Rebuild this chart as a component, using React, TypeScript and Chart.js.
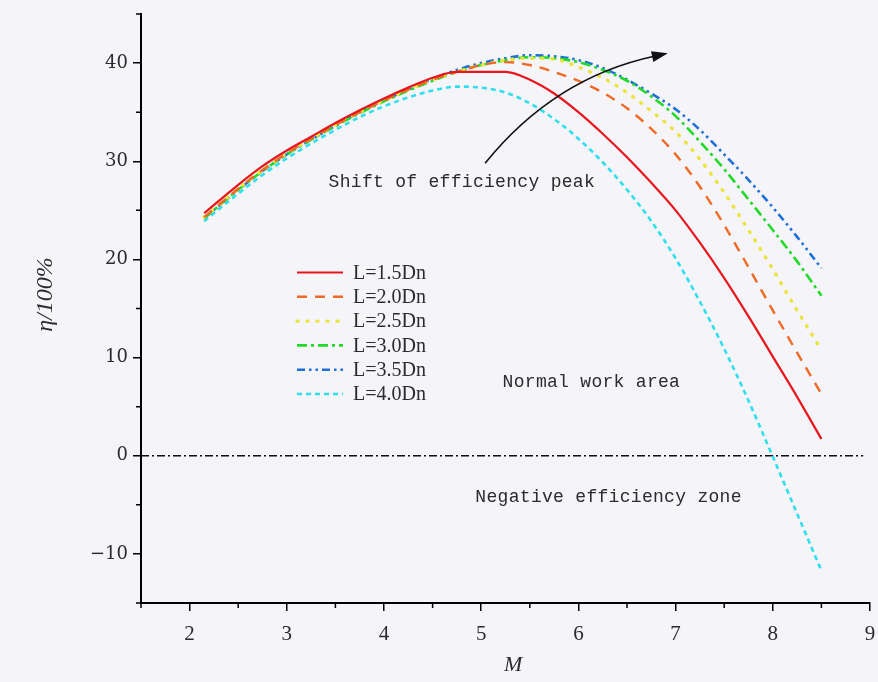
import React, { useEffect, useRef } from 'react';
import { Chart, registerables } from 'chart.js';

Chart.register(...registerables);

// ---------- data ----------
const M = [2.15, 2.5, 2.75, 3.0, 3.25, 3.5, 3.75, 4.0, 4.25, 4.5, 4.75, 5.0, 5.25, 5.5, 5.75, 6.0, 6.25, 6.5, 6.75, 7.0, 7.25, 7.5, 7.75, 8.0, 8.25, 8.5];

const L15 = [24.7, 27.6, 29.5, 31.1, 32.5, 33.9, 35.2, 36.4, 37.5, 38.5, 39.1, 39.1, 39.1, 38.3, 36.9, 35.0, 32.8, 30.4, 27.8, 25.0, 21.7, 18.1, 14.2, 10.1, 6.0, 1.7];
const L20 = [24.3, 27.2, 29.1, 30.8, 32.3, 33.7, 35.0, 36.2, 37.3, 38.3, 39.1, 39.8, 40.1, 39.8, 39.1, 38.2, 37.0, 35.4, 33.3, 30.7, 27.4, 23.5, 19.2, 14.8, 10.5, 6.3];
const L25 = [24.3, 27.2, 29.1, 30.8, 32.3, 33.7, 35.0, 36.2, 37.3, 38.3, 39.1, 39.8, 40.3, 40.5, 40.4, 39.6, 38.5, 37.0, 35.1, 33.0, 30.2, 26.8, 23.0, 19.0, 14.8, 10.8];
const L30 = [24.2, 27.1, 29.0, 30.7, 32.2, 33.6, 34.9, 36.1, 37.2, 38.2, 39.1, 39.8, 40.3, 40.6, 40.5, 40.1, 39.3, 38.2, 36.6, 34.6, 32.0, 29.2, 26.1, 23.0, 19.8, 16.3];
const L35 = [24.2, 27.1, 29.0, 30.7, 32.2, 33.6, 35.0, 36.2, 37.3, 38.4, 39.3, 40.0, 40.5, 40.8, 40.7, 40.3, 39.5, 38.3, 36.9, 35.3, 33.2, 30.7, 28.1, 25.3, 22.3, 19.1];
const L40 = [23.9, 26.7, 28.6, 30.3, 31.8, 33.2, 34.5, 35.6, 36.5, 37.2, 37.6, 37.5, 37.0, 35.9, 34.3, 32.3, 29.9, 27.1, 23.9, 20.1, 15.7, 10.9, 5.6, -0.1, -5.9, -11.7];

const SERIES_LABELS = ['L=1.5Dn', 'L=2.0Dn', 'L=2.5Dn', 'L=3.0Dn', 'L=3.5Dn', 'L=4.0Dn'];
const SERIES_VALUES = [L15, L20, L25, L30, L35, L40];

const ZERO_LINE_X = [1.5, 8.93];

const X_MAJOR = [2, 3, 4, 5, 6, 7, 8, 9];
const X_MINOR = [1.5, 2.5, 3.5, 4.5, 5.5, 6.5, 7.5, 8.5];
const Y_MAJOR = [-10, 0, 10, 20, 30, 40];
const Y_MINOR = [-15, -5, 5, 15, 25, 35, 45];

const X_TITLE = 'M';
const Y_TITLE = 'η/100%';

// annotations (data coordinates)
const NOTE_SHIFT = { text: 'Shift of efficiency peak', x: 3.43, y: 27.9 };
const NOTE_NORMAL = { text: 'Normal work area', x: 5.22, y: 7.5 };
const NOTE_NEG = { text: 'Negative efficiency zone', x: 4.94, y: -4.2 };
const ARROW = { x0: 5.04, y0: 29.8, cx: 5.75, cy: 38.5, x1: 6.92, y1: 41.0 };

// ---------- styles ----------
const STYLES = [
  { color: '#e8161c', dash: [] as number[], width: 2.2, cap: 'butt' },
  { color: '#ef6a24', dash: [10, 8], width: 2.4, cap: 'butt' },
  { color: '#ebe43a', dash: [1, 9], width: 3.4, cap: 'round' },
  { color: '#25d92a', dash: [10, 4, 3, 4], width: 2.6, cap: 'butt' },
  { color: '#1e6fd6', dash: [8, 4, 2.5, 4, 2.5, 4], width: 2.6, cap: 'butt' },
  { color: '#2fdfec', dash: [5, 4], width: 2.6, cap: 'butt' },
];

const BG = '#f4f4f9';
const TEXT = '#2b2b2b';

const decorPlugin = {
  id: 'decor',
  beforeDraw(chart: any) {
    const ctx = chart.ctx;
    ctx.save();
    ctx.fillStyle = BG;
    ctx.fillRect(0, 0, chart.width, chart.height);
    ctx.restore();
  },
  afterDraw(chart: any) {
    const ctx = chart.ctx;
    const xs = chart.scales.x;
    const ys = chart.scales.y;
    const area = chart.chartArea;
    ctx.save();
    // minor ticks
    ctx.strokeStyle = '#000';
    ctx.lineWidth = 1.5;
    ctx.beginPath();
    X_MINOR.forEach((v) => {
      const px = xs.getPixelForValue(v);
      ctx.moveTo(px, area.bottom);
      ctx.lineTo(px, area.bottom + 5);
    });
    Y_MINOR.forEach((v) => {
      const py = ys.getPixelForValue(v);
      ctx.moveTo(area.left, py);
      ctx.lineTo(area.left - 5, py);
    });
    ctx.stroke();

    // axis titles
    ctx.fillStyle = TEXT;
    ctx.textAlign = 'center';
    ctx.textBaseline = 'middle';
    ctx.font = 'italic 22px "Liberation Serif"';
    ctx.fillText(X_TITLE, xs.getPixelForValue(5.33), 665);
    ctx.save();
    ctx.translate(46, (area.top + area.bottom) / 2 - 14);
    ctx.rotate(-Math.PI / 2);
    ctx.font = 'italic 24px "Liberation Serif"';
    ctx.fillText(Y_TITLE, 0, 0);
    ctx.restore();

    // annotations
    ctx.textAlign = 'left';
    ctx.font = '18px "Liberation Mono"';
    try { (ctx as any).letterSpacing = '0.3px'; } catch (e) {}
    [NOTE_SHIFT, NOTE_NORMAL, NOTE_NEG].forEach((n) => {
      ctx.fillText(n.text, xs.getPixelForValue(n.x), ys.getPixelForValue(n.y));
    });
    try { (ctx as any).letterSpacing = '0px'; } catch (e) {}

    // arrow
    const p0x = xs.getPixelForValue(ARROW.x0), p0y = ys.getPixelForValue(ARROW.y0);
    const cx = xs.getPixelForValue(ARROW.cx), cy = ys.getPixelForValue(ARROW.cy);
    const p1x = xs.getPixelForValue(ARROW.x1), p1y = ys.getPixelForValue(ARROW.y1);
    const ang = Math.atan2(p1y - cy, p1x - cx);
    const headLen = 16, headW = 5.5;
    const bx = p1x - headLen * Math.cos(ang), by = p1y - headLen * Math.sin(ang);
    ctx.strokeStyle = '#111';
    ctx.lineWidth = 1.6;
    ctx.beginPath();
    ctx.moveTo(p0x, p0y);
    ctx.quadraticCurveTo(cx, cy, bx + 2 * Math.cos(ang), by + 2 * Math.sin(ang));
    ctx.stroke();
    ctx.fillStyle = '#111';
    ctx.beginPath();
    ctx.moveTo(p1x, p1y);
    ctx.lineTo(bx + headW * Math.sin(ang), by - headW * Math.cos(ang));
    ctx.lineTo(bx - headW * Math.sin(ang), by + headW * Math.cos(ang));
    ctx.closePath();
    ctx.fill();

    // legend
    const lx0 = 297, lx1 = 343, tx = 353, ty0 = 272.5, dy = 24.3;
    ctx.font = '20px "Liberation Serif"';
    ctx.textBaseline = 'middle';
    chart.data.datasets.slice(0, SERIES_LABELS.length).forEach((ds: any, i: number) => {
      const y = ty0 + i * dy;
      ctx.save();
      ctx.strokeStyle = ds.borderColor;
      ctx.lineWidth = ds.borderWidth;
      ctx.lineCap = ds.borderCapStyle;
      ctx.setLineDash(ds.borderDash || []);
      ctx.beginPath();
      ctx.moveTo(lx0, y);
      ctx.lineTo(lx1, y);
      ctx.stroke();
      ctx.restore();
      ctx.fillStyle = TEXT;
      ctx.fillText(ds.label, tx, y + 1);
    });
    ctx.restore();
  },
};

export default function App() {
  const ref = useRef<HTMLCanvasElement | null>(null);

  useEffect(() => {
    document.body.style.margin = '0';
    document.body.style.background = BG;
    const canvas = ref.current;
    if (!canvas) return;

    const datasets: any[] = SERIES_VALUES.map((vals, i) => ({
      label: SERIES_LABELS[i],
      data: M.map((m, j) => ({ x: m, y: vals[j] })),
      borderColor: STYLES[i].color,
      backgroundColor: STYLES[i].color,
      borderDash: STYLES[i].dash,
      borderWidth: STYLES[i].width,
      borderCapStyle: STYLES[i].cap,
      pointRadius: 0,
      cubicInterpolationMode: 'monotone',
      fill: false,
      order: i,
    }));
    datasets.push({
      label: 'zero',
      data: ZERO_LINE_X.map((x) => ({ x, y: 0 })),
      borderColor: '#111',
      borderWidth: 1.4,
      borderDash: [8, 3, 2, 3],
      pointRadius: 0,
      fill: false,
      order: 10,
    });

    const chart = new Chart(canvas, {
      type: 'line',
      data: { datasets },
      plugins: [decorPlugin],
      options: {
        animation: false,
        responsive: false,
        maintainAspectRatio: false,
        layout: { padding: { top: 14, right: 8, left: 0, bottom: 0 } },
        plugins: {
          legend: { display: false },
          tooltip: { enabled: false },
          title: { display: false },
        },
        scales: {
          x: {
            type: 'linear',
            min: 1.5,
            max: 9,
            afterBuildTicks: (s: any) => {
              s.ticks = X_MAJOR.map((v) => ({ value: v }));
            },
            afterFit: (s: any) => {
              s.height = 79;
              s.paddingRight = 0;
              s.paddingLeft = 0;
            },
            grid: {
              display: true,
              drawOnChartArea: false,
              drawTicks: true,
              tickLength: 8,
              color: '#000',
              lineWidth: 1.5,
            },
            border: { display: true, color: '#000', width: 2 },
            ticks: {
              padding: 11,
              color: TEXT,
              font: { family: '"Liberation Serif"', size: 21 },
              maxRotation: 0,
              autoSkip: false,
              callback: (v: any) => String(v),
            },
          },
          y: {
            type: 'linear',
            min: -15,
            max: 45,
            afterBuildTicks: (s: any) => {
              s.ticks = Y_MAJOR.map((v) => ({ value: v }));
            },
            afterFit: (s: any) => {
              s.width = 141;
              s.paddingTop = 0;
              s.paddingBottom = 0;
            },
            grid: {
              display: true,
              drawOnChartArea: false,
              drawTicks: true,
              tickLength: 8,
              color: '#000',
              lineWidth: 1.5,
            },
            border: { display: true, color: '#000', width: 2 },
            ticks: {
              padding: 5,
              color: TEXT,
              font: { family: '"DejaVu Serif"', size: 18 },
              autoSkip: false,
              callback: (v: any) => String(v).replace('-', '\u2212'),
            },
          },
        },
      } as any,
    });

    return () => chart.destroy();
  }, []);

  return (
    <div style={{ width: 878, height: 682, background: BG }}>
      <canvas ref={ref} width={878} height={682} style={{ display: 'block' }} />
    </div>
  );
}
